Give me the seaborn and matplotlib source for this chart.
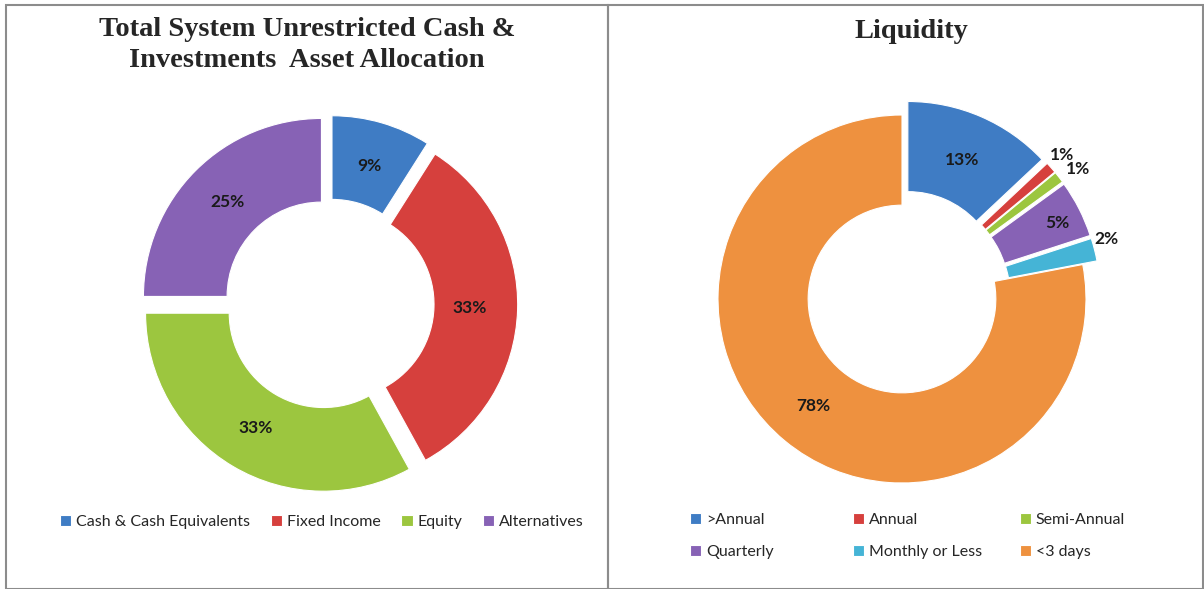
import numpy as np
import matplotlib.pyplot as plt
import seaborn as sns
from matplotlib.patches import Rectangle

# data
alloc_labels = ['Cash & Cash Equivalents', 'Fixed Income', 'Equity', 'Alternatives']
alloc_values = [9, 33, 33, 25]

liq_labels = ['>Annual', 'Annual', 'Semi-Annual', 'Quarterly', 'Monthly or Less', '<3 days']
liq_values = [13, 1, 1, 5, 2, 78]

sns.set_theme(style='white')
plt.rcParams['font.family'] = ['Lato', 'DejaVu Sans']

office = sns.color_palette(['#3F7CC4', '#D6403D', '#9CC63F', '#8762B5', '#45B4D6', '#EE913F'])

W, H = 1204, 589
fig = plt.figure(figsize=(W / 100, H / 100), dpi=100)


def donut_axes(cx, cy, r, xr=1.4, yr=1.3):
    """Axes placed so data unit 1 equals r pixels, centered at (cx, cy) px from top-left."""
    left = (cx - xr * r) / W
    bottom = (H - (cy + yr * r)) / H
    ax = fig.add_axes([left, bottom, 2 * xr * r / W, 2 * yr * r / H])
    return ax, xr, yr


def fix_limits(ax, xr, yr):
    # pie() resets the limits, so put them back afterwards
    ax.set_xlim(-xr, xr)
    ax.set_ylim(-yr, yr)
    ax.set_aspect('equal')
    ax.axis('off')


def put_pct(ax, wedges, values, radii, nudges):
    for w, v, rd, dn in zip(wedges, values, radii, nudges):
        ang = np.deg2rad((w.theta1 + w.theta2) / 2 + dn)
        cx, cy = w.center
        ax.text(cx + rd * np.cos(ang), cy + rd * np.sin(ang), f'{v}%',
                ha='center', va='center', fontsize=12.5, fontweight='bold',
                color='#1a1a1a')


# ---- left: asset allocation
ax1, xr, yr = donut_axes(329, 304, 178)
w1, _ = ax1.pie(alloc_values, colors=office[:4], startangle=90, counterclock=False,
                explode=[0.06] * 4, radius=1.0,
                wedgeprops=dict(width=0.47, edgecolor='white', linewidth=0.8))
fix_limits(ax1, xr, yr)
put_pct(ax1, w1, alloc_values, [0.75, 0.73, 0.75, 0.75], [0, 0, 0, 0])

# ---- right: liquidity
ax2, xr, yr = donut_axes(902, 299, 184)
w2, _ = ax2.pie(liq_values, colors=office, startangle=90, counterclock=False,
                explode=[0.08, 0.08, 0.08, 0.08, 0.08, 0.0], radius=1.0,
                wedgeprops=dict(width=0.49, edgecolor='white', linewidth=0.8))
fix_limits(ax2, xr, yr)
put_pct(ax2, w2, liq_values, [0.745, 1.09, 1.11, 0.86, 1.08, 0.755],
        [0, 0.8, -1.5, -1, 2.2, 0])

# titles
fig.text(307 / W, 1 - 45 / H, 'Total System Unrestricted Cash &\nInvestments  Asset Allocation',
         ha='center', va='center', fontsize=20.5, fontweight='bold',
         family='Liberation Serif', linespacing=1.3)
fig.text(911 / W, 1 - 31 / H, 'Liquidity', ha='center', va='center', fontsize=20.5,
         fontweight='bold', family='Liberation Serif')

# legends
leg_kw = dict(frameon=False, fontsize=11.5, handlelength=0.7, handleheight=0.7,
              handletextpad=0.3, borderpad=0, borderaxespad=0)
fig.legend(w1, alloc_labels, loc='center', bbox_to_anchor=(322 / W, 1 - 522 / H),
           ncol=4, columnspacing=1.3, **leg_kw)

for col, x in enumerate([690, 853, 1020]):
    idx = [col, col + 3]
    fig.legend([w2[i] for i in idx], [liq_labels[i] for i in idx], loc='upper left',
               bbox_to_anchor=(x / W, 1 - 513 / H), labelspacing=1.1, **leg_kw)

# panel borders
for x0, x1 in [(6, 608), (608, 1203)]:
    fig.add_artist(Rectangle((x0 / W, 0), (x1 - x0) / W, 1 - 5 / H,
                             transform=fig.transFigure, fill=False,
                             edgecolor='#8c8c8c', linewidth=1.5))

fig.savefig('out.png', dpi=100)
